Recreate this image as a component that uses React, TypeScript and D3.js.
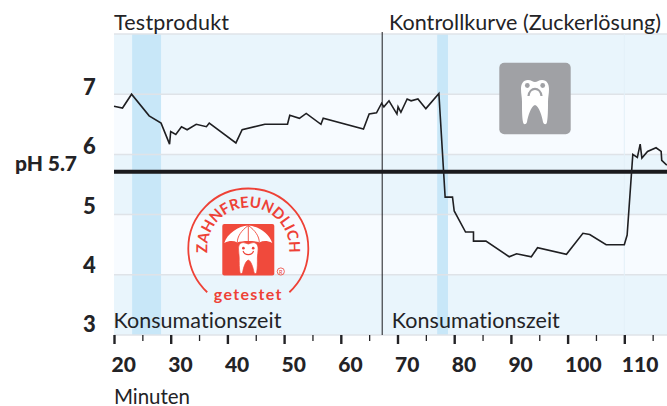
import React, { useEffect, useRef } from 'react';
import * as d3 from 'd3';

const WIDTH = 667;
const HEIGHT = 406;

// pH curve
const minutes = [
  20, 21.5, 23.1, 26.2, 28.3, 29.8, 30, 30.9, 31.9, 32.9, 34.5, 36.3, 36.8, 41.5, 42.6, 46.6, 50.6, 51, 52.7, 53.9,
  56.5, 56.9, 64, 65, 66.3, 67.2, 67.6, 68.5, 69.9, 70.1, 70.6, 71.7, 72.4, 73.6, 75, 77.3, 78.4, 79.7, 80, 82,
  83.4, 83.4, 85.6, 89.7, 91, 93.6, 94.7, 99.8, 102.7, 103.9, 106.8, 110, 110.5, 111.5, 112.3, 112.8, 113.1, 114.1,
  115.6, 116.5, 116.6, 117.5,
];
const phValues = [
  6.8, 6.77, 7, 6.64, 6.52, 6.17, 6.38, 6.33, 6.46, 6.41, 6.5, 6.46, 6.52, 6.19, 6.41, 6.5, 6.5, 6.65, 6.6, 6.68,
  6.5, 6.6, 6.42, 6.67, 6.69, 6.85, 6.79, 6.89, 6.67, 6.79, 6.7, 6.92, 6.89, 6.92, 6.76, 7.01, 5.29, 5.29, 5.06, 4.71,
  4.71, 4.56, 4.56, 4.3, 4.35, 4.3, 4.45, 4.34, 4.69, 4.67, 4.5, 4.5, 4.66, 6, 5.95, 6.17, 5.94, 6.05,
  6.11, 6.05, 5.9, 5.82,
];

const phTicks = [7, 6, 5, 4, 3];
const gridLevels = [8, 7, 6, 5, 4, 3];
const whiteBands = [[7, 6], [5, 4]];
const consumptionBands = [[23.2, 28.3], [77, 78.9]];
const consumptionLabels = [19.9, 69];
const majorTicks = [20, 30, 40, 50, 60, 70, 80, 90, 100, 110];
const minorTicks = [25, 35, 45, 55, 65, 75, 85, 95, 105, 115];
const DIVIDER = 67.3;
const THRESHOLD = 5.71;

const FONT = 'Lato, sans-serif';
const INK = '#232326';
const TOOTH =
  'M-7,-22 C-4,-22 -2,-20 0,-20 C2,-20 4,-22 7,-22 C12,-22 14,-18 14,-13 C14,-8 13,-5 13,0 C13,7 13,15 12,20 C11.5,23 9,23 8,20 C7,14 4,4 0,3 C-4,4 -7,14 -8,20 C-9,23 -11.5,23 -12,20 C-13,15 -13,7 -13,0 C-13,-5 -14,-8 -14,-13 C-14,-18 -12,-22 -7,-22 Z';

export default function App() {
  const svgRef = useRef<SVGSVGElement>(null);

  useEffect(() => {
    if (!svgRef.current) return;
    const svg = d3.select(svgRef.current);
    svg.selectAll('*').remove();
    svg.style('font-variant-ligatures', 'none');

    const x = d3.scaleLinear().domain([20, 117.53]).range([114, WIDTH]);
    const y = d3.scaleLinear().domain([3, 8]).range([335, 34]);
    // Digit baselines sit a bit off the grid lines in the original
    const labelY = d3.scaleLinear().domain([3, 7]).range([332, 95]);

    const addText = (str: string, px: number, py: number, size: number, weight = 400, fill = INK) =>
      svg
        .append('text')
        .attr('x', px)
        .attr('y', py)
        .attr('font-family', FONT)
        .attr('font-size', size)
        .attr('font-weight', weight)
        .attr('fill', fill)
        .text(str);

    // Background bands
    svg
      .append('rect')
      .attr('x', x(20))
      .attr('y', y(8))
      .attr('width', WIDTH - x(20))
      .attr('height', y(3) - y(8))
      .attr('fill', '#e9f5fc');

    svg
      .selectAll('.white-band')
      .data(whiteBands)
      .enter()
      .append('rect')
      .attr('x', x(20))
      .attr('y', d => y(d[0]))
      .attr('width', WIDTH - x(20))
      .attr('height', d => y(d[1]) - y(d[0]))
      .attr('fill', '#f7fbff');

    svg
      .selectAll('.consumption')
      .data(consumptionBands)
      .enter()
      .append('rect')
      .attr('x', d => x(d[0]))
      .attr('y', y(8))
      .attr('width', d => x(d[1]) - x(d[0]))
      .attr('height', y(3) - y(8))
      .attr('fill', '#c8e7f8');

    // Grid lines
    svg
      .selectAll('.grid')
      .data(gridLevels)
      .enter()
      .append('line')
      .attr('x1', x(20))
      .attr('x2', WIDTH)
      .attr('y1', d => y(d))
      .attr('y2', d => y(d))
      .attr('stroke', '#dfe3e8')
      .attr('stroke-width', 1.5);

    // Faint line where the recovery phase starts
    svg
      .append('line')
      .attr('x1', x(110))
      .attr('x2', x(110))
      .attr('y1', y(8))
      .attr('y2', y(3))
      .attr('stroke', '#e3f0f8')
      .attr('stroke-width', 1);

    // Sad tooth icon
    const sad = svg.append('g').attr('transform', 'translate(535,98.5)');
    sad.append('rect').attr('x', -35.7).attr('y', -35.8).attr('width', 71.4).attr('height', 71.6).attr('rx', 5).attr('fill', '#a0a1a5');
    const sadTooth = sad.append('g').attr('transform', 'translate(0,3.5)');
    sadTooth.append('path').attr('d', TOOTH).attr('fill', '#fff');
    sadTooth.append('circle').attr('cx', -7.7).attr('cy', -16.5).attr('r', 2.4).attr('fill', '#a0a1a5');
    sadTooth.append('circle').attr('cx', 7.7).attr('cy', -16.5).attr('r', 2.4).attr('fill', '#a0a1a5');
    sadTooth.append('path').attr('d', 'M-6.5,-6 C-5.5,-15.5 5.5,-15.5 6.5,-6').attr('fill', 'none').attr('stroke', '#a0a1a5').attr('stroke-width', 2.2);

    // Threshold and divider
    svg
      .append('line')
      .attr('x1', x(20))
      .attr('x2', WIDTH)
      .attr('y1', y(THRESHOLD))
      .attr('y2', y(THRESHOLD))
      .attr('stroke', '#1a1a1d')
      .attr('stroke-width', 4);

    svg
      .append('line')
      .attr('x1', x(DIVIDER))
      .attr('x2', x(DIVIDER))
      .attr('y1', 32)
      .attr('y2', y(3))
      .attr('stroke', '#1a1a1d')
      .attr('stroke-width', 1);

    // pH curve
    const line = d3
      .line<number>()
      .x(d => x(d))
      .y((_, i) => y(phValues[i]));

    svg
      .append('path')
      .attr('d', line(minutes))
      .attr('fill', 'none')
      .attr('stroke', '#1f1f22')
      .attr('stroke-width', 1.6)
      .attr('stroke-linejoin', 'miter');

    // Zahnfreundlich badge
    const RED = '#ee4136';
    const badge = svg.append('g').attr('transform', 'translate(248.3,248.5)');
    const arc = d3.arc();
    badge
      .append('path')
      .attr('d', arc({ innerRadius: 60, outerRadius: 60, startAngle: -(Math.PI * 0.76), endAngle: Math.PI * 0.76 }) as string)
      .attr('fill', 'none')
      .attr('stroke', RED)
      .attr('stroke-width', 1.8);
    // Text path runs past the horizontal so the long word is not cut at its ends
    badge
      .append('defs')
      .append('path')
      .attr('id', 'badge-arc')
      .attr('d', 'M-35.5,20.5 A41,41 0 1 1 35.5,20.5');
    badge
      .append('text')
      .attr('font-family', FONT)
      .attr('font-size', 15)
      .attr('font-weight', 700)
      .attr('fill', RED)
      .attr('text-anchor', 'middle')
      .append('textPath')
      .attr('href', '#badge-arc')
      .attr('startOffset', '50%')
      .text('ZAHNFREUNDLICH');
    badge.append('rect').attr('x', -26).attr('y', -24.5).attr('width', 52).attr('height', 51.5).attr('rx', 2).attr('fill', '#f04a3c');
    badge
      .append('path')
      .attr('d', 'M-24,-5.5 C-21,-15 -10,-22.5 0,-23 C10,-22.5 21,-15 24,-5.5 C19,-8 15,-8 11,-6 C7,-8 -7,-8 -11,-6 C-15,-8 -19,-8 -24,-5.5 Z')
      .attr('fill', '#fff');
    // Umbrella spokes
    badge.append('path').attr('d', 'M0,-23 L0,-6 M0,-23 C-7,-18 -11,-12 -11,-6 M0,-23 C7,-18 11,-12 11,-6').attr('fill', 'none').attr('stroke', '#f04a3c').attr('stroke-width', 0.9);
    const happy = badge.append('g').attr('transform', 'translate(0,9.5) scale(0.7)');
    happy.append('path').attr('d', TOOTH).attr('fill', '#fff').attr('stroke', '#f04a3c').attr('stroke-width', 1);
    happy.append('circle').attr('cx', -7).attr('cy', -14).attr('r', 1.9).attr('fill', RED);
    happy.append('circle').attr('cx', 7).attr('cy', -14).attr('r', 1.9).attr('fill', RED);
    happy.append('path').attr('d', 'M-7.5,-10 C-5,-3 5,-3 7.5,-10').attr('fill', 'none').attr('stroke', RED).attr('stroke-width', 1.6);
    badge.append('circle').attr('cx', 32.5).attr('cy', 23).attr('r', 3.6).attr('fill', 'none').attr('stroke', RED).attr('stroke-width', 0.8);
    badge.append('text').attr('x', 32.5).attr('y', 25).attr('font-family', FONT).attr('font-size', 5.5).attr('fill', RED).attr('text-anchor', 'middle').text('R');
    badge
      .append('text')
      .attr('x', 0)
      .attr('y', 51)
      .attr('font-family', FONT)
      .attr('font-size', 16)
      .attr('font-weight', 700)
      .attr('letter-spacing', 1.3)
      .attr('fill', RED)
      .attr('text-anchor', 'middle')
      .text('getestet');

    // Titles
    addText('Testprodukt', x(20), 30, 21.5).attr('textLength', 115);
    addText('Kontrollkurve (Zuckerlösung)', 389, 30, 21.5).attr('textLength', 272);
    consumptionLabels.forEach(v => addText('Konsumationszeit', x(v), 328, 21.5).attr('textLength', 168));
    addText('Minuten', x(20), 403.5, 20.5).attr('textLength', 76);

    // Y labels
    phTicks.forEach(v => addText(String(v), 89.5, labelY(v), 22, 900).attr('text-anchor', 'middle'));
    addText('pH 5.7', 15, 171, 21, 900).attr('textLength', 62);

    // X axis
    svg
      .append('g')
      .attr('transform', `translate(0,${y(3)})`)
      .call(d3.axisBottom(x).tickValues(minorTicks).tickSize(6).tickFormat(() => ''))
      .call(g => g.select('.domain').remove())
      .selectAll('line')
      .attr('stroke', INK)
      .attr('stroke-width', 1.3);

    const major = svg
      .append('g')
      .attr('transform', `translate(0,${y(3)})`)
      .call(d3.axisBottom(x).tickValues(majorTicks).tickSize(9).tickFormat(d => String(d)));
    major.select('.domain').remove();
    major.selectAll('line').attr('stroke', INK).attr('stroke-width', 2.4);
    major
      .selectAll('text')
      .attr('font-family', FONT)
      .attr('font-size', 21)
      .attr('font-weight', 900)
      .attr('fill', INK)
      .attr('text-anchor', 'start')
      .attr('x', -3)
      .attr('y', 37)
      .attr('dy', 0);
  }, []);

  return (
    <svg
      ref={svgRef}
      width={WIDTH}
      height={HEIGHT}
      style={{ position: 'absolute', left: 0, top: 0, background: '#fff' }}
    />
  );
}
